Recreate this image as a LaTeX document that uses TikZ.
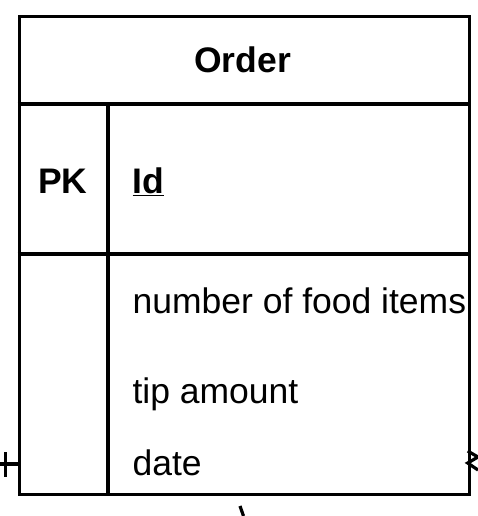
\documentclass[tikz,border=0pt]{standalone}
\usepackage{fontspec}
\setmainfont{Liberation Sans}
\begin{document}
\begin{tikzpicture}[x=1pt,y=-1pt, line width=3.2pt,
  txt/.style={inner sep=0pt, font=\fontsize{35.5}{40}\selectfont},
  btxt/.style={inner sep=0pt, font=\fontsize{35.5}{40}\selectfont\bfseries}]
\useasboundingbox (0,0) rectangle (478,516);
% table outline
\node[draw, minimum width=450pt, minimum height=477.7pt, inner sep=0pt,
      anchor=north west] (tbl) at (17.7,15.3) {};
% internal lines
\coordinate (hl) at (17.7,104);  \coordinate (hr) at (467.7,104);
\coordinate (rl) at (17.7,254);  \coordinate (rr) at (467.7,254);
\coordinate (dt) at (108,104);   \coordinate (db) at (108,493);
\draw (hl) -- (hr);
\draw (rl) -- (rr);
\draw (dt) -- (db);
% texts
\node[btxt, anchor=base] (title) at (242.5,73) {Order};
\node[btxt, anchor=base] (pk) at (62.9,193) {PK};
\node[btxt, anchor=base west] (id) at (131,193) {\underline{Id}};
\node[txt, anchor=base west] (f1) at (131,313) {number of food items};
\node[txt, anchor=base west] (f2) at (131,403) {tip amount};
\node[txt, anchor=base west] (f3) at (131,475) {date};
% left connector (one)
\coordinate (lc) at (0,464);
\draw (lc) -- (tbl.west |- lc);
\coordinate (lt1) at (5.5,452); \coordinate (lt2) at (5.5,477);
\draw (lt1) -- (lt2);
% right connector (many)
\coordinate (ra) at (467.7,451); \coordinate (rb) at (467.7,463);
\coordinate (rp) at (478,457);   \coordinate (rq) at (478,470);
\draw (ra) -- (rp) -- (rb) -- (rq);
% bottom connector stub
\coordinate (b1) at (240,506); \coordinate (b2) at (243.5,516);
\draw (b1) -- (b2);
\end{tikzpicture}
\end{document}
